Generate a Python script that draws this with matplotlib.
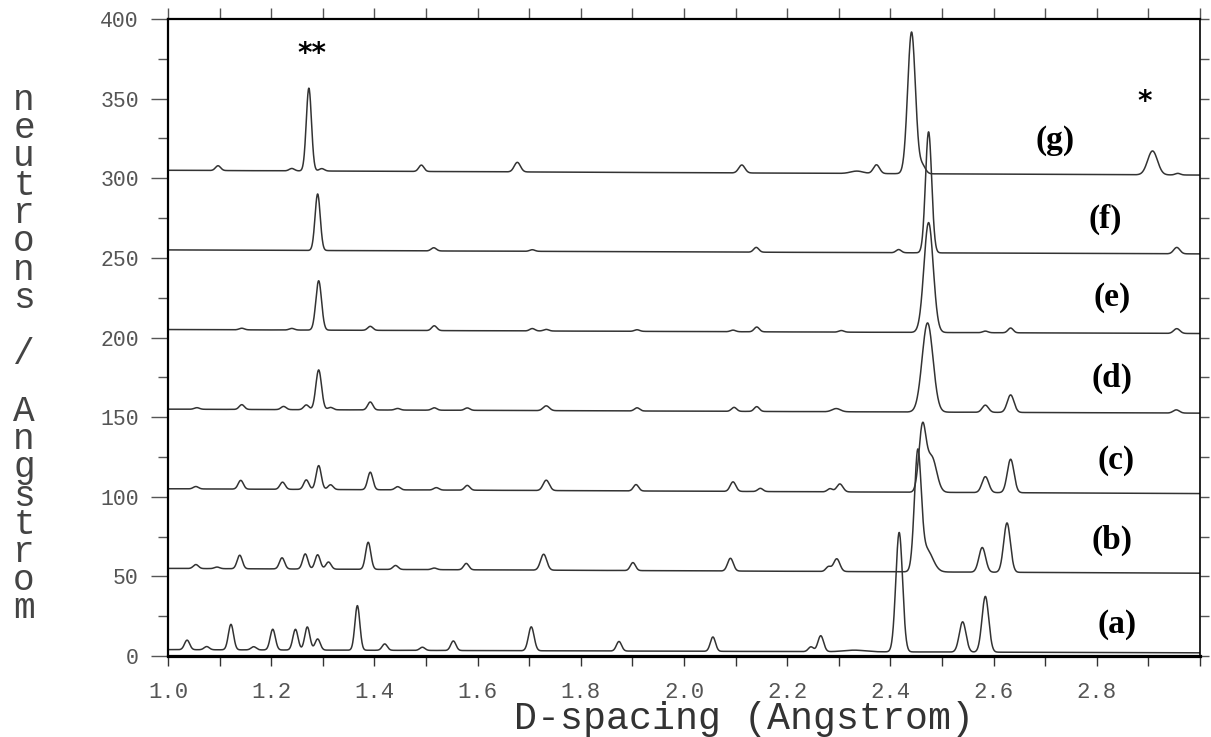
import numpy as np
import matplotlib
matplotlib.use("Agg")
import matplotlib.pyplot as plt
from matplotlib.ticker import MultipleLocator

# baseline (left end, right end) for each pattern, counts
base_a = (4, 2)
base_b = (55, 52)
base_c = (105, 102)
base_d = (155, 152.5)
base_e = (205, 202.5)
base_f = (255, 252.5)
base_g = (305, 302)

# peaks: (d-spacing, height above baseline, sigma)
peaks_a = [(1.037, 6, .005), (1.075, 2, .005), (1.122, 16, .005), (1.166, 2, .005),
           (1.203, 13, .005), (1.247, 13, .005), (1.270, 14.5, .005), (1.290, 7, .005),
           (1.367, 28, .0048), (1.420, 4, .005), (1.493, 2, .005), (1.553, 6, .005),
           (1.704, 15, .0055), (1.874, 6, .005), (2.056, 9, .005), (2.246, 3, .005),
           (2.265, 10, .0055), (2.33, 1, .02), (2.417, 75, .0065), (2.540, 19, .0065),
           (2.584, 35, .0065)]
peaks_b = [(1.054, 2.5, .005), (1.095, 1, .005), (1.139, 8.5, .005), (1.221, 7, .005),
           (1.266, 9.5, .005), (1.290, 9, .005), (1.311, 4.5, .005), (1.388, 17, .005),
           (1.441, 2.5, .005), (1.516, 1, .005), (1.578, 4, .005), (1.728, 10, .006),
           (1.901, 5, .005), (2.090, 8, .0055), (2.280, 3, .005), (2.296, 8, .006),
           (2.453, 72, .0065), (2.470, 14, .012), (2.578, 15.5, .0065), (2.626, 31, .0065)]
peaks_c = [(1.054, 1.5, .005), (1.141, 5.5, .005), (1.222, 4.5, .005), (1.268, 6, .005),
           (1.292, 15, .005), (1.315, 3, .005), (1.392, 11, .005), (1.445, 2, .005),
           (1.520, 1.5, .005), (1.580, 3, .005), (1.733, 6.5, .006), (1.907, 4, .005),
           (2.095, 6, .0055), (2.148, 2, .005), (2.283, 2, .005), (2.302, 5, .006),
           (2.462, 40, .0068), (2.480, 22, .0095), (2.584, 10, .0065), (2.633, 21, .0065)]
peaks_d = [(1.056, 1, .005), (1.143, 3, .005), (1.224, 2, .005), (1.268, 3, .005),
           (1.292, 25, .0055), (1.315, 1.5, .005), (1.392, 5, .005), (1.445, 1, .005),
           (1.516, 1.5, .005), (1.580, 1.5, .005), (1.733, 3, .006), (1.909, 2, .005),
           (2.097, 2.5, .005), (2.141, 3, .005), (2.295, 2, .008), (2.472, 56, .0105),
           (2.584, 4.5, .006), (2.633, 11, .0065), (2.954, 2, .006)]
peaks_e = [(1.143, 1, .005), (1.240, 1, .005), (1.292, 31, .0055), (1.392, 2.5, .005),
           (1.516, 3, .005), (1.706, 1.5, .005), (1.733, 1, .005), (1.909, 1, .005),
           (2.095, 1, .005), (2.141, 3, .005), (2.305, 1, .005), (2.474, 69, .009),
           (2.584, 1, .005), (2.633, 3, .005), (2.955, 3, .006)]
peaks_f = [(1.290, 35.5, .005), (1.515, 2, .005), (1.706, 1, .005), (2.140, 3, .005),
           (2.416, 2, .005), (2.474, 76, .006), (2.955, 4, .006)]
peaks_g = [(1.097, 3, .005), (1.240, 1.5, .005), (1.273, 52, .005), (1.298, 1.5, .005),
           (1.491, 4, .005), (1.677, 6, .006), (2.112, 5, .006), (2.335, 1.5, .012),
           (2.373, 5.5, .006), (2.441, 89, .0075), (2.462, 5, .006), (2.908, 15, .0095),
           (2.957, 1, .005)]

labels = ["(a)", "(b)", "(c)", "(d)", "(e)", "(f)", "(g)"]
label_x = [2.84, 2.83, 2.837, 2.83, 2.83, 2.816, 2.719]
label_y = [19.5, 72.8, 123, 174.6, 225, 274, 324]

patterns = [(base_a, peaks_a), (base_b, peaks_b), (base_c, peaks_c), (base_d, peaks_d),
            (base_e, peaks_e), (base_f, peaks_f), (base_g, peaks_g)]

d = np.linspace(1.0, 3.0, 4001)


def trace(base, peaks):
    y = base[0] + (base[1] - base[0]) * (d - d[0]) / (d[-1] - d[0])
    for pos, h, s in peaks:
        y = y + h * np.exp(-0.5 * ((d - pos) / s) ** 2)
    return y


mono = "Liberation Mono"
grey = "#555555"

fig = plt.figure(figsize=(12.11, 7.37), dpi=100)
ax = fig.add_axes([168 / 1211, 81 / 737, 1032 / 1211, 637 / 737])

for base, peaks in patterns:
    ax.plot(d, trace(base, peaks), color="#333333", lw=1.1)

for lab, lx, ly in zip(labels, label_x, label_y):
    ax.text(lx, ly, lab, ha="center", va="center", fontsize=24, fontweight="bold",
            family="Liberation Serif", color="black")

ax.text(1.279, 378, "**", ha="center", va="center", fontsize=20, fontweight="bold",
        family="DejaVu Sans")
ax.text(2.893, 348, "*", ha="center", va="center", fontsize=20, fontweight="bold",
        family="DejaVu Sans")

ax.set_xlim(1.0, 3.0)
ax.set_ylim(0, 400)

ax.xaxis.set_minor_locator(MultipleLocator(0.1))
ax.yaxis.set_major_locator(MultipleLocator(50))
ax.yaxis.set_minor_locator(MultipleLocator(25))
ax.set_xticks(np.arange(1.0, 2.81, 0.2))
ax.set_xticklabels([f"{v:.1f}" for v in np.arange(1.0, 2.81, 0.2)])

ax.tick_params(axis="x", which="both", direction="out", length=7, width=1,
               color="#333333", pad=12, labelsize=16, labelcolor=grey)
ax.tick_params(axis="y", which="major", direction="out", length=12, width=1,
               color="#555555", pad=9, labelsize=15.5, labelcolor=grey)
ax.tick_params(axis="y", which="minor", direction="out", length=7, width=1,
               color="#555555")
for lab in ax.get_xticklabels() + ax.get_yticklabels():
    lab.set_family(mono)

top = ax.secondary_xaxis("top")
top.xaxis.set_major_locator(MultipleLocator(0.1))
top.tick_params(direction="out", length=8, width=1, color="#555555", labeltop=False)
top.spines["top"].set_visible(False)

right = ax.secondary_yaxis("right")
right.yaxis.set_major_locator(MultipleLocator(25))
right.tick_params(direction="out", length=6.5, width=1, color="#555555", labelright=False)
right.spines["right"].set_visible(False)

ax.spines["bottom"].set_linewidth(2.3)
ax.spines["left"].set_linewidth(1.6)
ax.spines["top"].set_linewidth(1.6)
ax.spines["right"].set_linewidth(1.2)

fig.text(744 / 1211, 8 / 737, "D-spacing (Angstrom)", ha="center", va="baseline",
         fontsize=27.5, family=mono, color="#333333")

# y label: letters stacked upright, one per line
ylab = "neutrons / Angstrom"
fig.text(24 / 1211, 1 - 83 / 737, "\n".join(ylab), ha="center", va="top",
         multialignment="center", linespacing=0.75, fontsize=26, family=mono,
         color="#444444")

fig.savefig("out.png", dpi=100)
